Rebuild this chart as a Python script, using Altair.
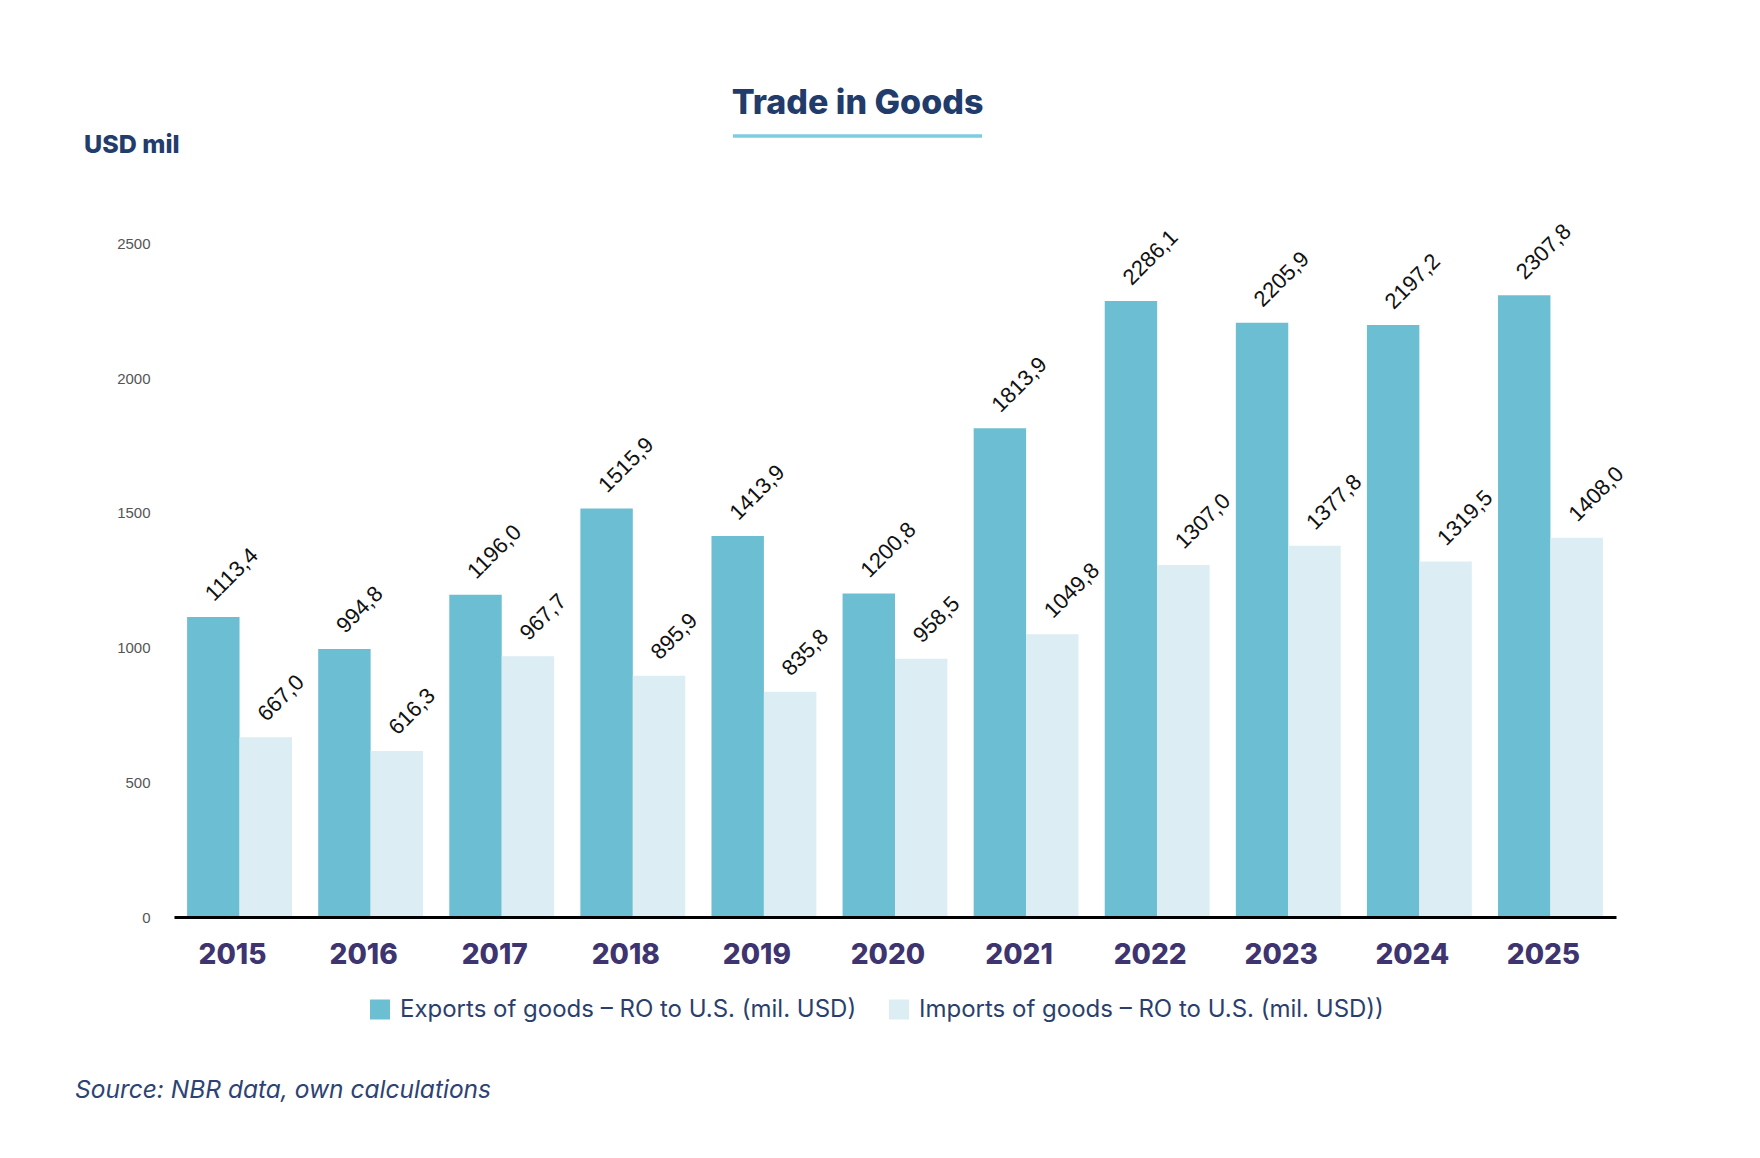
import altair as alt
import pandas as pd

years = [str(y) for y in range(2015, 2026)]
exports = [1113.4, 994.8, 1196.0, 1515.9, 1413.9, 1200.8, 1813.9, 2286.1, 2205.9, 2197.2, 2307.8]
imports = [667.0, 616.3, 967.7, 895.9, 835.8, 958.5, 1049.8, 1307.0, 1377.8, 1319.5, 1408.0]
series = ["Exports of goods – RO to U.S. (mil. USD)", "Imports of goods – RO to U.S. (mil. USD))"]
colors = ["#6CBFD2", "#DCEDF3"]
y_ticks = [0, 500, 1000, 1500, 2000, 2500]

rows = []
for i, yr in enumerate(years):
    rows.append({"year": yr, "series": series[0], "value": exports[i]})
    rows.append({"year": yr, "series": series[1], "value": imports[i]})
df = pd.DataFrame(rows)
df["label"] = df["value"].map(lambda v: f"{v:.1f}".replace(".", ","))

W, H = 1442, 673.5

base = alt.Chart(df).encode(
    x=alt.X(
        "year:N",
        sort=years,
        title=None,
        scale=alt.Scale(paddingInner=0.2, paddingOuter=0.1),
        axis=alt.Axis(
            labelAngle=0,
            labelFont="Inter",
            labelFontWeight=800,
            labelFontSize=28,
            labelColor="#3D3470",
            labelPadding=24,
            labelOffset=-7,
            ticks=False,
            domainColor="#000000",
            domainWidth=3,
            grid=False,
            zindex=1,
        ),
    ),
    xOffset=alt.XOffset("series:N", sort=series),
    y=alt.Y(
        "value:Q",
        title=None,
        scale=alt.Scale(domain=[0, 2500], nice=False),
        axis=alt.Axis(
            values=y_ticks,
            format="d",
            domain=False,
            ticks=False,
            grid=False,
            labelFont="Liberation Sans",
            labelFontSize=15,
            labelColor="#555555",
            labelPadding=24,
        ),
    ),
)

bars = base.mark_bar().encode(
    color=alt.Color(
        "series:N",
        sort=series,
        scale=alt.Scale(domain=series, range=colors),
        legend=alt.Legend(
            title=None,
            orient="none",
            legendX=194,
            legendY=754,
            direction="horizontal",
            symbolType="square",
            symbolSize=400,
            symbolStrokeWidth=0,
            labelFont="Inter",
            labelFontSize=24,
            labelColor="#2B3F6D",
            labelOffset=8,
            labelLimit=800,
            columnPadding=30,
        ),
    )
)

labels = base.mark_text(
    angle=315,
    align="left",
    baseline="alphabetic",
    dx=11,
    dy=-10,
    font="Liberation Sans",
    fontSize=22,
    color="#111111",
).encode(text="label:N")

title = alt.Chart(pd.DataFrame({"t": ["Trade in Goods"]})).mark_text(
    font="Inter", fontSize=34, fontWeight=800, color="#213B6B",
    align="center", baseline="middle",
).encode(text="t:N", x=alt.value(683.5), y=alt.value(-140))

underline = alt.Chart(pd.DataFrame({"a": [0]})).mark_rule(
    color="#7DCDE2", strokeWidth=3.5
).encode(x=alt.value(559), x2=alt.value(808), y=alt.value(-107.5))

unit = alt.Chart(pd.DataFrame({"t": ["USD mil"]})).mark_text(
    font="Inter", fontSize=25, fontWeight=800, color="#223C6C",
    align="left", baseline="middle",
).encode(text="t:N", x=alt.value(-90), y=alt.value(-99))

source = alt.Chart(pd.DataFrame({"t": ["Source: NBR data, own calculations"]})).mark_text(
    font="Inter", fontSize=24.5, fontStyle="italic", color="#2D4373",
    align="left", baseline="middle",
).encode(text="t:N", x=alt.value(-99), y=alt.value(847))

chart = alt.layer(bars, labels, title, underline, unit, source).properties(
    width=W,
    height=H,
    autosize=alt.AutoSizeParams(type="none"),
    padding={"left": 166, "top": 235.5, "right": 136, "bottom": 233},
).configure_view(stroke=None)

chart.save("out.html", embed_options={"renderer": "svg", "actions": False})
